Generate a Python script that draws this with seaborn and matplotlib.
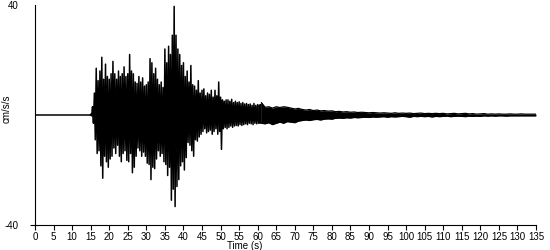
import numpy as np
import pandas as pd
import matplotlib
matplotlib.use("Agg")
import matplotlib.pyplot as plt
import seaborn as sns

# ---- data (cm/s/s) ----
# quiet pre-event part
quiet_time = [0.0, 15.0]
quiet_value = [0.0, 0.0]

# strong-motion body: peaks every 0.5 s from 15.0 s to 60.0 s
body_start = 15.0
body_step = 0.5
body_upper = [
    0.3, 3, 8, 17, 12.5, 16, 21, 13, 18.5, 14,
    13, 15, 19.5, 15, 13, 16, 14, 15, 17.5, 14,
    15, 22, 16, 15, 12, 11.5, 14, 12, 13.5, 10.5,
    11, 12, 20.5, 19, 15, 17, 13, 11, 12, 10,
    24, 19, 25, 22, 29, 39.5, 29, 24, 22, 18,
    19, 14, 16, 12, 18, 11, 10.5, 9, 12.5, 8,
    9, 9.5, 7, 8, 7.5, 9, 6.5, 9, 7, 12,
    6.5, 5.5, 5, 5.5, 5.5, 5, 5.7, 4.5, 5, 4.5,
    4.8, 4.2, 4.5, 4, 4.2, 3.8, 4, 3.5, 4.2, 3.5,
    3.8,
]
body_lower = [
    -0.3, -3, -9, -14, -13, -18.5, -23, -15, -17, -19,
    -16, -15, -12, -14, -11, -15, -17, -14, -13, -16.5,
    -17, -14, -21, -19, -15, -12, -13, -15, -13.5, -15,
    -17.5, -18, -23.5, -19, -19.5, -16, -13, -15, -14, -17,
    -18, -22, -19, -31, -27, -33.3, -26, -23.5, -18.5, -17,
    -20, -15.5, -10, -11, -13, -15, -9, -9.5, -8, -7,
    -6, -5, -6.5, -6, -5.5, -7, -6, -5, -7, -6,
    -12.5, -5, -4.5, -5, -4.5, -4, -4.5, -4, -3.8, -4,
    -3.5, -3.8, -3.5, -3.2, -3.5, -3, -3.2, -3.5, -3, -3.2,
    -3,
]

# coda / tail: envelope every 1 s from 61 s to 135 s
tail_start = 61.0
tail_step = 1.0
tail_upper = [
    4.5, 2.8, 3, 2.5, 3, 2.7, 3, 2.8, 2.5, 2.2,
    2.4, 2, 1.8, 2, 1.6, 1.8, 1.5, 1.6, 1.4, 1.5,
    1.2, 1.3, 1.1, 1.2, 1.0, 1.1, 0.9, 1.0, 0.9, 0.8,
    0.9, 0.8, 0.7, 0.8, 0.7, 0.6, 0.8, 0.6, 0.7, 0.6,
    0.7, 0.5, 0.6, 0.7, 0.5, 0.6, 0.5, 0.6, 0.5, 0.6,
    0.4, 0.5, 0.6, 0.4, 0.5, 0.6, 0.4, 0.5, 0.3, 0.4,
    0.5, 0.3, 0.4, 0.3, 0.4, 0.3, 0.3, 0.4, 0.3, 0.3,
    0.4, 0.3, 0.3, 0.3, 0.3,
]
tail_lower = [
    -3, -3.2, -2.8, -3.5, -3, -2.6, -3, -2.4, -2.6, -2.8,
    -2.2, -2, -1.8, -2, -1.7, -1.6, -1.8, -1.5, -1.4, -1.5,
    -1.2, -1.1, -1.2, -1.0, -1.1, -0.9, -1.0, -0.9, -0.8, -0.9,
    -0.7, -0.8, -0.7, -0.6, -0.8, -0.6, -0.7, -0.6, -0.5, -0.6,
    -0.8, -0.5, -0.6, -0.5, -0.6, -0.5, -0.7, -0.5, -0.6, -0.5,
    -0.4, -0.6, -0.5, -0.4, -0.5, -0.6, -0.4, -0.5, -0.4, -0.5,
    -0.3, -0.4, -0.3, -0.4, -0.3, -0.3, -0.4, -0.3, -0.3, -0.3,
    -0.3, -0.3, -0.3, -0.3, -0.3,
]

x_ticks = list(range(0, 136, 5))
y_ticks = [-40, 40]
y_ticklabels = ["-40", "40"]
x_label = "Time (s)"
y_label = "cm/s/s"


def peaks_to_trace(start, step, upper, lower):
    t, v = [], []
    for i, (u, l) in enumerate(zip(upper, lower)):
        t0 = start + i * step
        t += [t0, t0 + step / 2]
        v += [u, l]
    return t, v


bt, bv = peaks_to_trace(body_start, body_step, body_upper, body_lower)
df_body = pd.DataFrame({"t": quiet_time + bt, "a": quiet_value + bv})

tail_time = [tail_start + i * tail_step for i in range(len(tail_upper))]
df_tail = pd.DataFrame({"t": tail_time, "up": tail_upper, "lo": tail_lower})

sns.set_theme(style="white")
plt.rcParams["font.family"] = ["Liberation Sans", "DejaVu Sans"]

fig = plt.figure(figsize=(5.5, 2.5), dpi=100)
ax = fig.add_axes([35 / 550, 25 / 250, 501 / 550, 220 / 250])

LW = 1.1
sns.lineplot(data=df_body, x="t", y="a", sort=False, estimator=None,
             color="black", linewidth=LW, ax=ax)
# coda drawn as a dense band between its envelopes
ax.fill_between(df_tail["t"], df_tail["lo"], df_tail["up"],
                color="black", linewidth=0)
sns.lineplot(data=df_tail, x="t", y="up", estimator=None, color="black",
             linewidth=0.9, ax=ax)
sns.lineplot(data=df_tail, x="t", y="lo", estimator=None, color="black",
             linewidth=0.9, ax=ax)
# joint between body and coda
ax.fill_between([body_start + body_step * (len(body_upper) - 1), tail_start],
                [body_lower[-1], tail_lower[0]],
                [body_upper[-1], tail_upper[0]], color="black", linewidth=0)

ax.set_xlim(0, 135)
ax.set_ylim(-40, 40)
ax.set_xticks(x_ticks)
ax.set_xticklabels([str(v) for v in x_ticks])
ax.set_yticks(y_ticks)
ax.set_yticklabels(y_ticklabels)

for side in ["top", "right"]:
    ax.spines[side].set_visible(False)
for side in ["left", "bottom"]:
    ax.spines[side].set_color("black")
    ax.spines[side].set_linewidth(0.8)

ax.tick_params(axis="x", direction="out", length=3.6, width=0.8,
               colors="black", labelsize=7, pad=1.5, bottom=True)
ax.tick_params(axis="y", direction="out", length=3.6, width=0.8,
               colors="black", labelsize=7, pad=8, left=True)
ax.yaxis.get_major_ticks()[1].tick1line.set_visible(False)

ax.set_xlabel(x_label, fontsize=7, color="black")
ax.set_ylabel(y_label, fontsize=7, color="black")
ax.xaxis.set_label_coords(0.419, -0.073)
ax.yaxis.set_label_coords(-0.046, 0.53)
ax.grid(False)

fig.savefig("out.png", dpi=100, facecolor="white")
